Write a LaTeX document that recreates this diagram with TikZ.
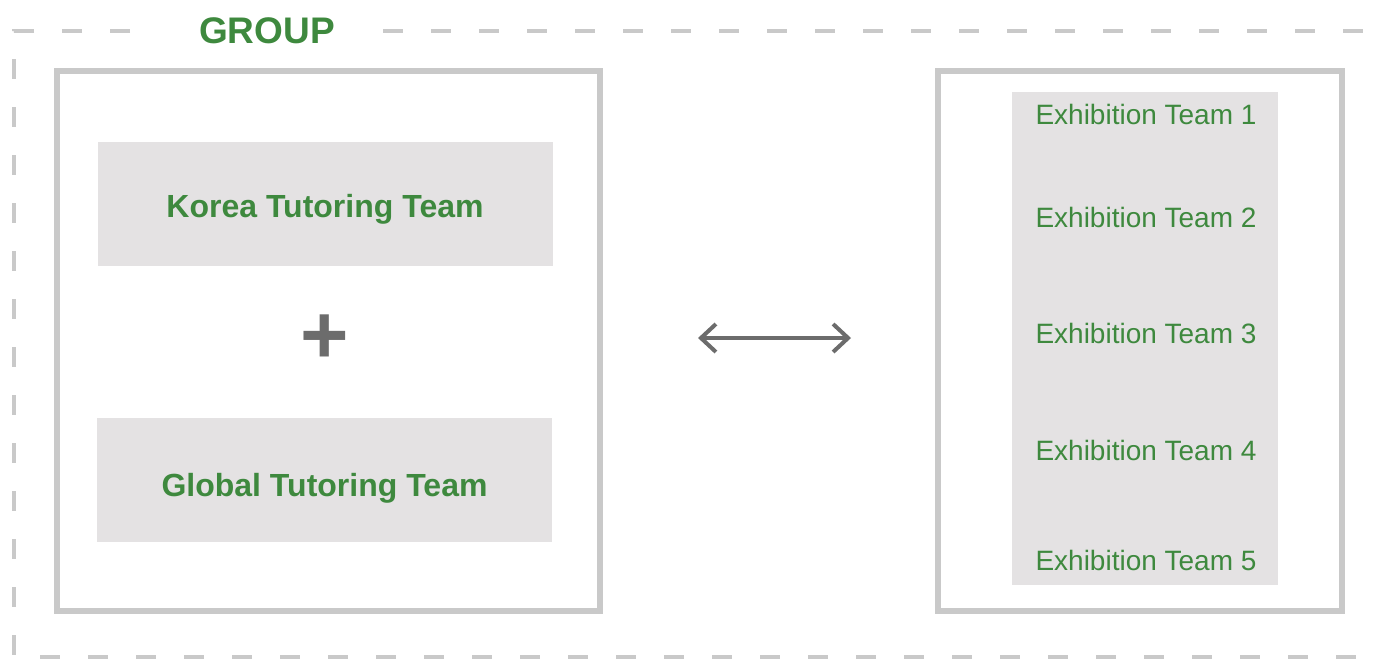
\documentclass[tikz,border=0pt]{standalone}
\usepackage{fontspec}
\setmainfont{Liberation Sans}
\usetikzlibrary{arrows.meta}
\definecolor{teamgreen}{RGB}{62,137,62}
\definecolor{boxgray}{RGB}{201,201,201}
\definecolor{fillgray}{RGB}{228,226,227}
\definecolor{signgray}{RGB}{108,108,108}
\begin{document}
\begin{tikzpicture}[x=1pt,y=-1pt]

    \tikzset{
      panel/.style={
        draw=boxgray,
        line width=6pt,
        fill=white,
        inner sep=0pt,
      },
      tutorbox/.style={
        fill=fillgray,
        inner sep=0pt,
        minimum width=455pt,
        minimum height=124pt,
        text=teamgreen,
        font=\fontsize{32}{32}\selectfont\bfseries,
        text depth=0pt,
      },
      exhlabel/.style={
        inner sep=0pt,
        text=teamgreen,
        font=\fontsize{28}{28}\selectfont,
        text height=20pt,
        text depth=0pt,
      },
      link/.style={
        color=signgray,
        line width=4pt,
        >={Straight Barb[length=15pt,width=28pt]},
        <->,
      },
    }
    \useasboundingbox (0,0) rectangle (1383,659);

	% group frame
	\draw[color ={boxgray}, line width=4pt, dash pattern=on 20pt off 28pt] (130,31)--(14,31)--(14,657)--(1400,657);
	\draw[color ={boxgray}, line width=4pt, dash pattern=on 20pt off 28pt] (383,31)--(1400,31);
	\node[text=teamgreen, font=\fontsize{37}{37}\selectfont\bfseries, inner sep=0pt, anchor=base] (group) at (267,43) {GROUP};

	% left side
	\node[panel, minimum width=543pt, minimum height=540pt] (tutoring) at (328.5,341) {};
	\node[tutorbox, text height=26pt] (korea) at (325,204) {Korea Tutoring Team};
	\node[tutorbox, text height=33pt] (global) at (324.5,480) {Global Tutoring Team};
	\node[text=signgray, font=\fontsize{83}{83}\selectfont\bfseries, inner sep=0pt] (plus) at (325,339) {+};

	% right side
	\node[panel, minimum width=404pt, minimum height=540pt] (exhibition) at (1140,341) {};
	\node[fill=fillgray, inner sep=0pt, minimum width=266pt, minimum height=493pt] (column) at (1145,338.5) {};
	\node[exhlabel] (exh1) at (1146,114) {Exhibition Team 1};
	\node[exhlabel] (exh2) at (1146,217) {Exhibition Team 2};
	\node[exhlabel] (exh3) at (1146,333) {Exhibition Team 3};
	\node[exhlabel] (exh4) at (1146,450) {Exhibition Team 4};
	\node[exhlabel] (exh5) at (1146,560) {Exhibition Team 5};

	\coordinate (linkL) at (698,338);
	\coordinate (linkR) at (851,338);
	\draw[link] (linkL)--(linkR);

\end{tikzpicture}
\end{document}
